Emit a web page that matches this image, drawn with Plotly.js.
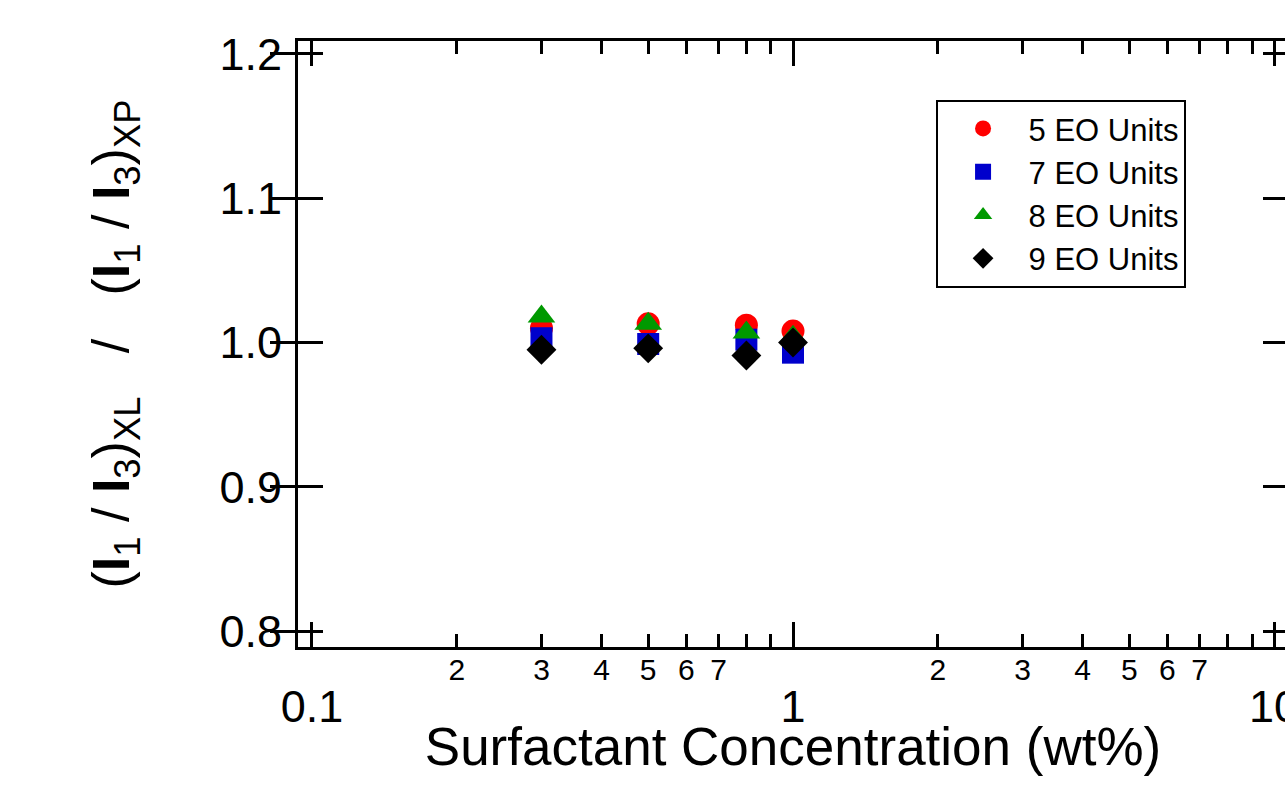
<!DOCTYPE html>
<html>
<head>
<meta charset="utf-8">
<script src="https://cdn.plot.ly/plotly-3.0.1.min.js"></script>
<style>
  html, body { margin: 0; padding: 0; overflow: hidden; background: #fff; }
  #chart { width: 1301px; height: 800px; }
</style>
</head>
<body>
<div id="chart"></div>
<script>
// ---- data ----
const concentration = [0.3, 0.5, 0.8, 1.0];
const eo5 = [1.010, 1.013, 1.012, 1.008];
const eo7 = [1.003, 0.999, 1.002, 0.993];
const eo8 = [1.018, 1.013, 1.007, 1.004];
const eo9 = [0.995, 0.996, 0.991, 1.000];
const seriesNames = ['5 EO Units', '7 EO Units', '8 EO Units', '9 EO Units'];

const majorXTicks = [0.1, 1, 10];
const majorXText = ['0.1', '1', '10'];
const minorXTicks = [0.2, 0.3, 0.4, 0.5, 0.6, 0.7, 0.8, 0.9, 2, 3, 4, 5, 6, 7, 8, 9];
const minorLabelTicks = [0.2, 0.3, 0.4, 0.5, 0.6, 0.7, 2, 3, 4, 5, 6, 7];
const minorLabelText = ['2', '3', '4', '5', '6', '7', '2', '3', '4', '5', '6', '7'];
const yTicks = [0.8, 0.9, 1.0, 1.1, 1.2];
const yText = ['0.8', '0.9', '1.0', '1.1', '1.2'];

const FONT = 'Liberation Sans, Arial, Helvetica, sans-serif';
const xRange = [-1.029, 1.029];

function tr(y, name, symbol, color, size) {
  return {
    x: concentration, y: y, name: name, type: 'scatter', mode: 'markers',
    xaxis: 'x', yaxis: 'y',
    marker: { symbol: symbol, color: color, size: size, line: { width: 0 } }
  };
}

const data = [
  tr(eo5, seriesNames[0], 'circle', '#ff0000', 23),
  tr(eo7, seriesNames[1], 'square', '#0000cc', 22),
  tr(eo8, seriesNames[2], 'triangle-up', '#009900', 24),
  tr(eo9, seriesNames[3], 'diamond', '#000000', 23),
  // invisible trace to activate the label axis for minor ticks
  { x: concentration, y: eo5, xaxis: 'x2', yaxis: 'y', type: 'scatter', mode: 'markers',
    marker: { opacity: 0 }, showlegend: false, hoverinfo: 'skip' }
];

const layout = {
  width: 1301, height: 800,
  margin: { l: 298, r: 13, t: 41, b: 153 },
  paper_bgcolor: '#ffffff', plot_bgcolor: '#ffffff',
  font: { family: FONT, color: '#000000' },
  showlegend: true,
  xaxis: {
    type: 'log', range: xRange,
    tickmode: 'array', tickvals: majorXTicks, ticktext: majorXText,
    ticks: 'inside', ticklen: 25, tickwidth: 3, tickcolor: '#000',
    showline: true, linewidth: 3, linecolor: '#000', mirror: 'allticks',
    showgrid: false, zeroline: false,
    tickfont: { size: 45, family: FONT },
    ticklabelstandoff: 18,
    minor: { tickmode: 'array', tickvals: minorXTicks, ticks: 'inside', ticklen: 13, tickwidth: 3, tickcolor: '#000', showgrid: false }
  },
  xaxis2: {
    type: 'log', range: xRange, overlaying: 'x', anchor: 'y', side: 'bottom',
    tickmode: 'array', tickvals: minorLabelTicks, ticktext: minorLabelText,
    ticks: '', showline: false, showgrid: false, zeroline: false,
    tickfont: { size: 30, family: FONT },
    ticklabelstandoff: 2,
    title: { text: 'Surfactant Concentration (wt%)', font: { size: 53, family: FONT }, standoff: 42 }
  },
  yaxis: {
    range: [0.789, 1.209],
    tickmode: 'array', tickvals: yTicks, ticktext: yText,
    ticks: 'inside', ticklen: 25, tickwidth: 3, tickcolor: '#000',
    showline: true, linewidth: 3, linecolor: '#000', mirror: 'allticks',
    showgrid: false, zeroline: false,
    tickfont: { size: 45, family: FONT },
    ticklabelstandoff: 4,
    title: {
      text: '(<b>I</b><sub>1</sub> / <b>I</b><sub>3</sub>)<sub>XL</sub>   /   (<b>I</b><sub>1</sub> / <b>I</b><sub>3</sub>)<sub>XP</sub>',
      font: { size: 52, family: FONT }, standoff: 74
    }
  },
  legend: {
    x: 0.644, y: 0.903, xanchor: 'left', yanchor: 'top',
    bgcolor: '#ffffff', bordercolor: '#000000', borderwidth: 2,
    font: { size: 31, family: FONT, color: '#000' },
    itemsizing: 'trace', itemwidth: 81
  }
};

Plotly.newPlot('chart', data, layout, { displayModeBar: false, staticPlot: true });
</script>
</body>
</html>
